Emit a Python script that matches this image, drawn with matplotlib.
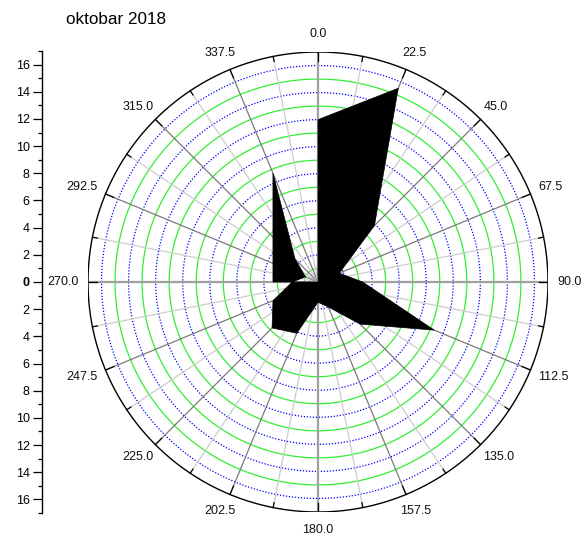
#!/usr/bin/env python3
"""Wind rose, oktobar 2018"""

import numpy as np
import matplotlib
matplotlib.use('Agg')
import matplotlib.pyplot as plt

# direction (deg, clockwise from north) and value
directions = [0.0, 22.5, 45.0, 67.5, 90.0, 112.5, 135.0, 157.5,
              180.0, 202.5, 225.0, 247.5, 270.0, 292.5, 315.0, 337.5]
values = [12.0, 15.5, 5.9, 1.7, 3.3, 9.3, 4.4, 2.0,
          1.5, 4.1, 4.8, 3.6, 1.9, 1.0, 2.4, 8.7]

title = 'oktobar 2018'
r_max = 17
ring_values = list(range(1, 17))
radial_ticks = list(range(-16, 17, 2))
angle_labels = [f'{d:.1f}' for d in directions]

plt.rcParams['font.family'] = ['Liberation Sans', 'DejaVu Sans']

W, H = 587, 537
fig = plt.figure(figsize=(W / 100, H / 100), dpi=100)

# main (polar drawn on cartesian) axes: circle radius 230 px, centre (318, 282)
ax = fig.add_axes([88 / W, 25 / H, 460 / W, 460 / H])
ax.set_xlim(-r_max, r_max)
ax.set_ylim(-r_max, r_max)
ax.axis('off')

px = r_max / 230.0  # data units per pixel
t = np.linspace(0, 2 * np.pi, 721)

# rings
for r in ring_values:
    if r % 2:
        ax.plot(r * np.sin(t), r * np.cos(t), color='#33ee33', lw=0.9, zorder=1)
    else:
        ax.plot(r * np.sin(t), r * np.cos(t), color='#0000ff', lw=0.9,
                ls=(0, (1, 1.4)), zorder=1)

# spokes
for k in range(32):
    a = np.radians(k * 11.25)
    if k % 8 == 0:
        col, lw = '#a0a0a0', 1.6
    elif k % 2 == 0:
        col, lw = '#7a7a7a', 0.9
    else:
        col, lw = '#cccccc', 0.9
    ax.plot([0, r_max * np.sin(a)], [0, r_max * np.cos(a)], color=col, lw=lw, zorder=1)

# filled area (curve + drop to baseline, like the original)
th = np.radians(directions)
xs = list(np.array(values) * np.sin(th))
ys = list(np.array(values) * np.cos(th))
poly_x = xs + [xs[-1], xs[0]]
poly_y = ys + [0.0, 0.0]
ax.fill(poly_x, poly_y, color='black', lw=0.5, zorder=3)

# outer circle and ticks
ax.plot(r_max * np.sin(t), r_max * np.cos(t), color='black', lw=1.0, zorder=4)
for k in range(32):
    a = np.radians(k * 11.25)
    ln = 9 * px if k % 2 == 0 else 5 * px
    ax.plot([(r_max - ln) * np.sin(a), r_max * np.sin(a)],
            [(r_max - ln) * np.cos(a), r_max * np.cos(a)],
            color='black', lw=0.9, zorder=4)

# angle labels
for d, lab in zip(directions, angle_labels):
    a = np.radians(d)
    hw = 15 if len(lab) > 4 else 12
    x = (r_max + 10 * px) * np.sin(a) + hw * px * np.sin(a)
    y = (r_max + 10 * px) * np.cos(a) + 8 * px * np.cos(a)
    ax.text(x, y, lab, ha='center', va='center', fontsize=9, color='#111111',
            clip_on=False)

# radial scale on the left
ax2 = fig.add_axes([41.5 / W, 24 / H, 0.5 / W, 462 / H])
ax2.set_ylim(-r_max, r_max)
ax2.set_xticks([])
for s in ['top', 'right', 'bottom']:
    ax2.spines[s].set_visible(False)
ax2.spines['left'].set_linewidth(1.0)
ax2.set_yticks(radial_ticks)
ax2.set_yticklabels([str(abs(v)) for v in radial_ticks[::-1]])
ax2.set_yticks(list(range(-17, 18, 2)), minor=True)
ax2.tick_params(axis='y', which='major', direction='out', length=6.5, width=0.9,
                labelsize=9, pad=2)
ax2.tick_params(axis='y', which='minor', direction='out', length=3.2, width=0.9)
for lab in ax2.get_yticklabels():
    if lab.get_text() == '0':
        lab.set_fontweight('bold')
ax2.patch.set_visible(False)

fig.text(66 / W, 1 - 20 / H, title, fontsize=12.3, ha='left', va='center')

plt.savefig('out.png', dpi=100)
